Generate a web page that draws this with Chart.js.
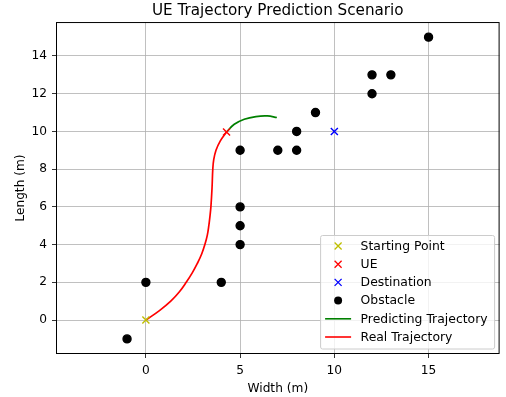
<!DOCTYPE html>
<html>
<head>
<meta charset="utf-8">
<script src="https://cdn.jsdelivr.net/npm/chart.js@4.4.1/dist/chart.umd.min.js"></script>
<style>
  html, body { margin: 0; padding: 0; background: #ffffff; }
  #wrap { width: 506px; height: 397px; }
</style>
</head>
<body>
<div id="wrap"><canvas id="c" width="506" height="397"></canvas></div>
<script>
// Scenario geometry (metres)
const startPoint = [{ x: 0, y: 0 }];
const uePoint = [{ x: 4.28, y: 9.97 }];
const destinationPoint = [{ x: 10, y: 10 }];
const obstacleX = [-1, 0, 4, 5, 5, 5, 5, 7, 8, 8, 9, 12, 12, 13, 15];
const obstacleY = [-1, 2, 2, 4, 5, 6, 9, 9, 9, 10, 11, 12, 13, 13, 15];
const realX = [0, 0.72, 1.32, 1.78, 2.14, 2.46, 2.73, 2.96, 3.13, 3.26, 3.34, 3.40, 3.45, 3.51, 3.55, 3.60, 3.72, 3.95, 4.28];
const realY = [0, 0.5, 1.0, 1.5, 2.0, 2.5, 3.0, 3.5, 4.0, 4.5, 5.0, 5.5, 6.0, 7.0, 8.0, 8.5, 9.0, 9.5, 9.97];
const predX = [4.28, 4.69, 5.22, 5.84, 6.45, 6.95];
const predY = [9.97, 10.38, 10.65, 10.79, 10.82, 10.74];
const xTicks = [0, 5, 10, 15];
const yTicks = [0, 2, 4, 6, 8, 10, 12, 14];
const xRange = [-4.77, 18.77];
const yRange = [-1.8, 15.8];

const zip = (xs, ys) => xs.map((x, i) => ({ x: x, y: ys[i] }));
const FONT = "'DejaVu Sans', sans-serif";

// Boxed legend in the lower-right corner of the plot area
const boxLegend = {
  id: 'boxLegend',
  afterDraw(chart) {
    const ctx = chart.ctx;
    const area = chart.chartArea;
    const w = 174, h = 113.5, rowH = 18.2;
    const x0 = area.right - 5 - w, y0 = area.bottom - 5 - h;
    ctx.save();
    ctx.beginPath();
    ctx.roundRect(x0, y0, w, h, 2);
    ctx.fillStyle = 'rgba(255,255,255,0.8)';
    ctx.fill();
    ctx.strokeStyle = '#cccccc';
    ctx.lineWidth = 1;
    ctx.stroke();
    ctx.font = '12.4px ' + FONT;
    ctx.textBaseline = 'middle';
    ctx.textAlign = 'left';
    chart.data.datasets.forEach((ds, i) => {
      const cy = y0 + 10.5 + i * rowH;
      const cx = x0 + 17.5;
      ctx.strokeStyle = ds.borderColor;
      ctx.fillStyle = ds.backgroundColor;
      if (ds.showLine) {
        ctx.lineWidth = 1.6;
        ctx.beginPath();
        ctx.moveTo(x0 + 4.5, cy);
        ctx.lineTo(x0 + 30.5, cy);
        ctx.stroke();
      } else if (ds.pointStyle === 'circle') {
        ctx.beginPath();
        ctx.arc(cx, cy, 4, 0, Math.PI * 2);
        ctx.fill();
      } else {
        ctx.lineWidth = 1.3;
        ctx.beginPath();
        ctx.moveTo(cx - 3.5, cy - 3.5); ctx.lineTo(cx + 3.5, cy + 3.5);
        ctx.moveTo(cx - 3.5, cy + 3.5); ctx.lineTo(cx + 3.5, cy - 3.5);
        ctx.stroke();
      }
      ctx.fillStyle = '#000000';
      ctx.fillText(ds.label, x0 + 40, cy + 0.5);
    });
    ctx.restore();
  }
};

// Black frame around the plot area
const frame = {
  id: 'frame',
  afterDatasetsDraw(chart) {
    const a = chart.chartArea, ctx = chart.ctx;
    ctx.save();
    ctx.strokeStyle = '#000000';
    ctx.lineWidth = 1;
    ctx.strokeRect(a.left + 0.5, a.top + 0.5, a.right - a.left - 1, a.bottom - a.top - 1);
    ctx.restore();
  }
};

const markerSet = (label, data, color, style, r) => ({
  label: label, data: data, showLine: false,
  pointStyle: style, pointRadius: r, pointHoverRadius: r,
  borderColor: color, backgroundColor: color, pointBorderWidth: 1.4
});
const lineSet = (label, data, color) => ({
  label: label, data: data, showLine: true, tension: 0.4,
  borderColor: color, backgroundColor: color, borderWidth: 1.7,
  pointRadius: 0, pointHoverRadius: 0
});

new Chart(document.getElementById('c'), {
  type: 'scatter',
  data: {
    datasets: [
      markerSet('Starting Point', startPoint, '#bfbf00', 'crossRot', 5),
      markerSet('UE', uePoint, '#ff0000', 'crossRot', 5),
      markerSet('Destination', destinationPoint, '#0000ff', 'crossRot', 5),
      markerSet('Obstacle', zip(obstacleX, obstacleY), '#000000', 'circle', 4),
      lineSet('Predicting Trajectory', zip(predX, predY), '#008000'),
      lineSet('Real Trajectory', zip(realX, realY), '#ff0000')
    ]
  },
  options: {
    responsive: false,
    animation: false,
    events: [],
    layout: { padding: { left: 0, right: 6, top: 0, bottom: 0 } },
    plugins: {
      legend: { display: false },
      tooltip: { enabled: false },
      title: {
        display: true, text: 'UE Trajectory Prediction Scenario',
        fullSize: false, color: '#000000',
        font: { family: FONT, size: 15.2, weight: 'normal', lineHeight: 1.2 },
        padding: { top: 2, bottom: 1.8 }
      }
    },
    scales: {
      x: {
        type: 'linear', min: xRange[0], max: xRange[1],
        afterBuildTicks: s => { s.ticks = xTicks.map(v => ({ value: v })); },
        afterFit: s => { s.height = 43; },
        grid: { color: '#b0b0b0', lineWidth: 0.8, tickColor: '#000000', tickLength: 4, drawTicks: true },
        border: { display: false },
        ticks: { color: '#000000', font: { family: FONT, size: 12.2 }, padding: 6, maxRotation: 0 },
        title: { display: true, text: 'Width (m)', color: '#000000', font: { family: FONT, size: 12.2 }, padding: { top: 2, bottom: 1 } }
      },
      y: {
        type: 'linear', min: yRange[0], max: yRange[1],
        afterBuildTicks: s => { s.ticks = yTicks.map(v => ({ value: v })); },
        afterFit: s => { s.width = 56; },
        grid: { color: '#b0b0b0', lineWidth: 0.8, tickColor: '#000000', tickLength: 4, drawTicks: true },
        border: { display: false },
        ticks: { color: '#000000', font: { family: FONT, size: 12.2 }, padding: 5 },
        title: { display: true, text: 'Length (m)', color: '#000000', font: { family: FONT, size: 12.2 }, padding: { top: 14, bottom: 2 } }
      }
    }
  },
  plugins: [frame, boxLegend]
});
</script>
</body>
</html>
